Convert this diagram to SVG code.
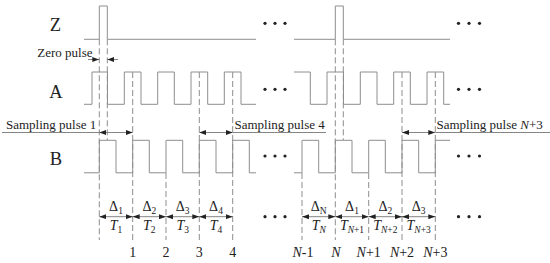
<svg xmlns="http://www.w3.org/2000/svg" width="550" height="263" viewBox="0 0 550 263">
<defs>
<marker id="ah" markerUnits="userSpaceOnUse" markerWidth="7" markerHeight="5" refX="7" refY="2.5" orient="auto-start-reverse">
<path d="M0,0 L7,2.5 L0,5 z" fill="#222"/>
</marker>
<style>
.w{fill:none;stroke:#8e8e8e;stroke-width:1}
.d{fill:none;stroke:#8e8e8e;stroke-width:1;stroke-dasharray:6 3}
.a{fill:none;stroke:#777;stroke-width:0.9}
.ab{fill:none;stroke:#777;stroke-width:0.9;marker-start:url(#ah);marker-end:url(#ah)}
.ae{fill:none;stroke:#777;stroke-width:0.9;marker-end:url(#ah)}
.big{font-family:"Liberation Serif","Times New Roman",serif;font-size:18.5px;fill:#222;text-anchor:middle}
.s{font-family:"Liberation Serif","Times New Roman",serif;font-size:13px;fill:#222}
.m{font-family:"Liberation Serif","Times New Roman",serif;font-size:14px;fill:#222;text-anchor:middle}
.i{font-style:italic}
.dot{fill:#222}
</style>
</defs>
<rect width="550" height="263" fill="#fff"/>

<g id="labels">
<text class="big" x="55.5" y="30.7">Z</text>
<text class="big" x="56" y="97.5">A</text>
<text class="big" x="56" y="165">B</text>
</g>

<g id="wave-Z">
<path class="w" d="M84,39.3 H99.3 V6 H107.3 V39.3 H256"/>
<path class="w" d="M294,39.3 H335.3 V6 H343.3 V39.3 H450"/>
</g>
<g id="wave-A">
<path class="w" d="M84,104.3 H92 V72 H107.5 V104.3 H124.3 V72 H141 V104.3 H157.7 V72 H174.3 V104.3 H191 V72 H207.7 V104.3 H224.3 V72 H241 V104.3 H256"/>
<path class="w" d="M294,72 H310.3 V104.3 H327 V72 H343.5 V104.3 H360.3 V72 H377 V104.3 H393.7 V72 H410.3 V104.3 H427 V72 H443.7 V104.3 H450"/>
</g>
<g id="wave-B">
<path class="w" d="M84,172.8 H99.3 V140.3 H116 V172.8 H132.7 V140.3 H149.3 V172.8 H166 V140.3 H182.7 V172.8 H199.3 V140.3 H216 V172.8 H232.7 V140.3 H249.3 V172.8 H256"/>
<path class="w" d="M294,172.8 H302 V140.3 H318.7 V172.8 H335.3 V140.3 H352 V172.8 H368.7 V140.3 H385.3 V172.8 H402 V140.3 H418.7 V172.8 H435.3 V140.3 H450"/>
</g>

<g id="dashed-guides">
<path class="d" d="M99.3,39.3 V240 M107.3,39.3 V140 M132.7,72 V240 M166,173 V240 M199.3,72 V240 M232.7,72 V240"/>
<path class="d" d="M302,173 V240 M335.3,39.3 V240 M343.3,39.3 V140 M368.7,173 V240 M402,72 V240 M435.3,72 V240"/>
</g>

<g id="connectors">
<line class="ae" x1="88" y1="59.5" x2="99.3" y2="59.5"/>
<line class="ae" x1="118" y1="59.5" x2="107.3" y2="59.5"/>
<line class="a" x1="2" y1="132.5" x2="99.3" y2="132.5"/>
<line class="ab" x1="99.3" y1="132.5" x2="132.7" y2="132.5"/>
<line class="ab" x1="199.3" y1="132.5" x2="232.7" y2="132.5"/>
<line class="a" x1="232.7" y1="132.5" x2="326" y2="132.5"/>
<line class="ab" x1="402" y1="132.5" x2="435.3" y2="132.5"/>
<line class="a" x1="435.3" y1="132.5" x2="550" y2="132.5"/>
<line class="ab" x1="99.3" y1="216.7" x2="132.7" y2="216.7"/>
<line class="ab" x1="132.7" y1="216.7" x2="166" y2="216.7"/>
<line class="ab" x1="166" y1="216.7" x2="199.3" y2="216.7"/>
<line class="ab" x1="199.3" y1="216.7" x2="232.7" y2="216.7"/>
<line class="ab" x1="302" y1="216.7" x2="335.3" y2="216.7"/>
<line class="ab" x1="335.3" y1="216.7" x2="368.7" y2="216.7"/>
<line class="ab" x1="368.7" y1="216.7" x2="402" y2="216.7"/>
<line class="ab" x1="402" y1="216.7" x2="435.3" y2="216.7"/>
</g>

<g id="pulse-labels">
<text class="s" x="37.3" y="57">Zero pulse</text>
<text class="s" x="6" y="128.5">Sampling pulse 1</text>
<text class="s" x="234.5" y="128.5">Sampling pulse 4</text>
<text class="s" x="436.5" y="128.5">Sampling pulse <tspan class="i">N</tspan>+3</text>
</g>

<g id="intervals">
<text class="m" x="116" y="210.5">Δ<tspan font-size="9.5" dy="3">1</tspan></text>
<text class="m" x="149.3" y="210.5">Δ<tspan font-size="9.5" dy="3">2</tspan></text>
<text class="m" x="182.7" y="210.5">Δ<tspan font-size="9.5" dy="3">3</tspan></text>
<text class="m" x="216" y="210.5">Δ<tspan font-size="9.5" dy="3">4</tspan></text>
<text class="m" x="116" y="230"><tspan class="i">T</tspan><tspan font-size="9.5" dy="3">1</tspan></text>
<text class="m" x="149.3" y="230"><tspan class="i">T</tspan><tspan font-size="9.5" dy="3">2</tspan></text>
<text class="m" x="182.7" y="230"><tspan class="i">T</tspan><tspan font-size="9.5" dy="3">3</tspan></text>
<text class="m" x="216" y="230"><tspan class="i">T</tspan><tspan font-size="9.5" dy="3">4</tspan></text>
<text class="m" x="318.7" y="210.5">Δ<tspan font-size="9.5" dy="3">N</tspan></text>
<text class="m" x="352" y="210.5">Δ<tspan font-size="9.5" dy="3">1</tspan></text>
<text class="m" x="385.3" y="210.5">Δ<tspan font-size="9.5" dy="3">2</tspan></text>
<text class="m" x="418.7" y="210.5">Δ<tspan font-size="9.5" dy="3">3</tspan></text>
<text class="m" x="318.7" y="230"><tspan class="i">T</tspan><tspan class="i" font-size="9.5" dy="3">N</tspan></text>
<text class="m" x="352" y="230"><tspan class="i">T</tspan><tspan font-size="9.5" dy="3"><tspan class="i">N</tspan>+1</tspan></text>
<text class="m" x="385.3" y="230"><tspan class="i">T</tspan><tspan font-size="9.5" dy="3"><tspan class="i">N</tspan>+2</tspan></text>
<text class="m" x="418.7" y="230"><tspan class="i">T</tspan><tspan font-size="9.5" dy="3"><tspan class="i">N</tspan>+3</tspan></text>
</g>

<g id="indices">
<text class="m" x="132.7" y="257">1</text>
<text class="m" x="166" y="257">2</text>
<text class="m" x="199.3" y="257">3</text>
<text class="m" x="232.7" y="257">4</text>
<text class="m" x="303" y="257"><tspan class="i">N</tspan>-1</text>
<text class="m" x="336" y="257" font-style="italic">N</text>
<text class="m" x="368.7" y="257"><tspan class="i">N</tspan>+1</text>
<text class="m" x="402" y="257"><tspan class="i">N</tspan>+2</text>
<text class="m" x="435.3" y="257"><tspan class="i">N</tspan>+3</text>
</g>

<g id="ellipses">
<circle class="dot" cx="265" cy="23.3" r="1.6"/><circle class="dot" cx="275" cy="23.3" r="1.6"/><circle class="dot" cx="285" cy="23.3" r="1.6"/>
<circle class="dot" cx="265" cy="89.3" r="1.6"/><circle class="dot" cx="275" cy="89.3" r="1.6"/><circle class="dot" cx="285" cy="89.3" r="1.6"/>
<circle class="dot" cx="265" cy="156" r="1.6"/><circle class="dot" cx="275" cy="156" r="1.6"/><circle class="dot" cx="285" cy="156" r="1.6"/>
<circle class="dot" cx="265" cy="216.7" r="1.6"/><circle class="dot" cx="275" cy="216.7" r="1.6"/><circle class="dot" cx="285" cy="216.7" r="1.6"/>
<circle class="dot" cx="458.5" cy="23.3" r="1.6"/><circle class="dot" cx="469" cy="23.3" r="1.6"/><circle class="dot" cx="479.5" cy="23.3" r="1.6"/>
<circle class="dot" cx="458.5" cy="89.3" r="1.6"/><circle class="dot" cx="469" cy="89.3" r="1.6"/><circle class="dot" cx="479.5" cy="89.3" r="1.6"/>
<circle class="dot" cx="458.5" cy="156" r="1.6"/><circle class="dot" cx="469" cy="156" r="1.6"/><circle class="dot" cx="479.5" cy="156" r="1.6"/>
<circle class="dot" cx="458.5" cy="216.7" r="1.6"/><circle class="dot" cx="469" cy="216.7" r="1.6"/><circle class="dot" cx="479.5" cy="216.7" r="1.6"/>
</g>
</svg>
